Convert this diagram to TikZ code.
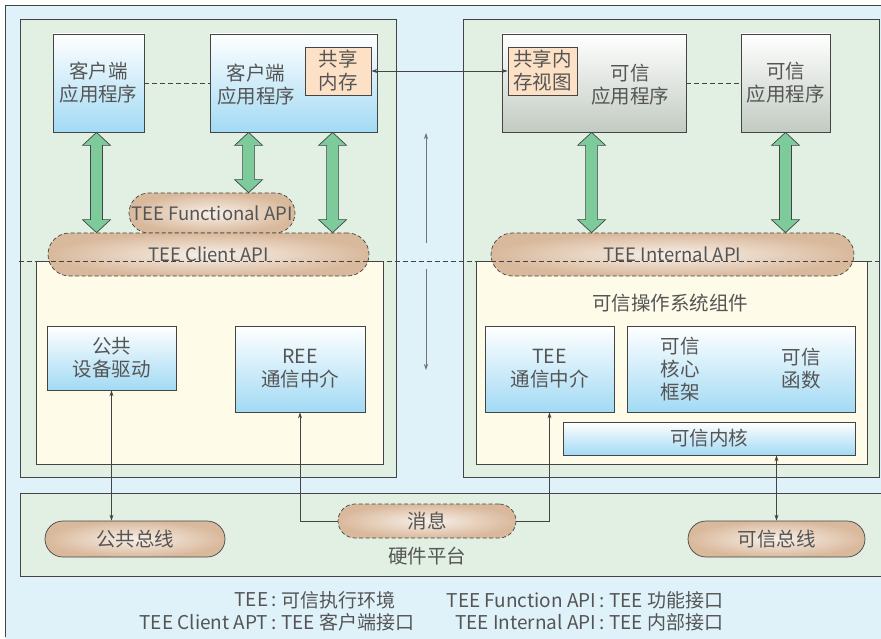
\documentclass[tikz,border=0pt]{standalone}
\usepackage{fontspec}
\setmainfont{Noto Sans CJK SC}
\usetikzlibrary{arrows.meta,calc}
\definecolor{bgblue}{HTML}{DFF1F9}
\definecolor{framegreen}{HTML}{E2F0E4}
\definecolor{yel}{HTML}{FEFBE9}
\definecolor{boxblue}{HTML}{A2DAF4}
\definecolor{boxgrey}{HTML}{C2CBC2}
\definecolor{peach}{HTML}{FDE1C6}
\definecolor{pilltan}{HTML}{D9B99C}
\definecolor{pilllight}{HTML}{F8F0E8}
\definecolor{arrgreen}{HTML}{7DCA9B}
\definecolor{txtgrey}{HTML}{555555}
\definecolor{edgegrey}{HTML}{444444}
\tikzset{
  every node/.style={text=txtgrey, inner sep=0pt, align=center},
  boxtext/.style={font=\fontsize{19.5}{23}\selectfont},
  bluebox/.style={draw=edgegrey, line width=0.8pt, top color=white, bottom color=boxblue, boxtext},
  greybox/.style={draw=edgegrey, line width=0.8pt, top color=white, bottom color=boxgrey, boxtext},
  peachbox/.style={draw=edgegrey, line width=0.8pt, fill=peach, boxtext},
  pill/.style={draw=edgegrey, line width=0.7pt, inner color=pilllight, outer color=pilltan, font=\fontsize{18.5}{20}\selectfont},
  dashpill/.style={pill, dash pattern=on 4pt off 2.5pt},
  frameg/.style={draw=edgegrey, line width=0.7pt, fill=framegreen},
  framey/.style={draw=edgegrey, line width=0.7pt, fill=yel},
  fatarr/.style={draw=edgegrey, line width=0.7pt, fill=arrgreen},
  conn/.style={draw=edgegrey, line width=0.7pt},
  dashconn/.style={conn, dash pattern=on 5pt off 3pt},
  tip/.style={-{Stealth[length=6pt,width=4pt]}},
  dtip/.style={{Stealth[length=6pt,width=4pt]}-{Stealth[length=6pt,width=4pt]}},
  legend/.style={font=\fontsize{19}{22}\selectfont}
}
\newcommand\fatarrow[2]{\filldraw[fatarr] let \p1=#1, \p2=#2 in (\x1,\y1) -- (\x1+14pt,\y1-13pt) -- (\x1+6pt,\y1-13pt) -- (\x1+6pt,\y2+13pt) -- (\x1+14pt,\y2+13pt) -- (\x1,\y2) -- (\x1-14pt,\y2+13pt) -- (\x1-6pt,\y2+13pt) -- (\x1-6pt,\y1-13pt) -- (\x1-14pt,\y1-13pt) -- cycle;}
\begin{document}
\begin{tikzpicture}[x=1pt,y=-1pt]
\useasboundingbox (0,0) rectangle (881,639);
% background
\fill[bgblue] (5,5) rectangle (881,639);
\draw[edgegrey, line width=0.8pt] (5,637) -- (5,5) -- (881,5);
% frames
\path[frameg] (20,19) rectangle (396,477);
\path[frameg] (463,19) rectangle (879,477);
\path[framey] (36,261) rectangle (383,464);
\path[framey] (476,261) rectangle (867,464);
% hardware platform
\path[frameg] (20,493) rectangle (884,576);
\node[boxtext] (hwlabel) at (427,556) {硬件平台};

% top apps
\node[bluebox, minimum width=91, minimum height=98] (app1) at (98.5,83) {客户端\\应用程序};
\node[bluebox, minimum width=167, minimum height=98] (app2) at (293.5,83) {};
\node[boxtext] (app2t) at (256,85) {客户端\\应用程序};
\node[peachbox, minimum width=66, minimum height=48] (shm) at (338,71) {共享\\内存};
\node[greybox, minimum width=184, minimum height=98] (tapp1) at (594,83) {};
\node[boxtext] (tapp1t) at (630,85) {可信\\应用程序};
\node[peachbox, minimum width=69, minimum height=48] (shmv) at (542.5,71) {共享内\\存视图};
\node[greybox, minimum width=89, minimum height=98] (tapp2) at (785.5,83) {可信\\应用程序};

\draw[dashconn] (app1.east) -- (app2.west);
\draw[dashconn] (tapp1.east) -- (tapp2.west);
\draw[conn, dtip] (shmv.west) -- (shm.east);

% API pills
\node[dashpill, minimum width=166, minimum height=40, rounded corners=20] (func) at (212,213) {TEE Functional API};
\node[dashpill, minimum width=321, minimum height=43, rounded corners=21.5] (client) at (208.5,254.5) {TEE Client API};
\node[dashpill, minimum width=363, minimum height=43, rounded corners=21.5] (internal) at (672.5,254.5) {TEE Internal API};

% fat arrows
\fatarrow{($(app1.south)+(-2,0)$)}{(client.north)}
\fatarrow{($(app2.south west)+(39,0)$)}{(func.north)}
\fatarrow{($(app2.south west)+(123,0)$)}{(client.north)}
\fatarrow{($(tapp1.south west)+(90,0)$)}{(internal.north)}
\fatarrow{(tapp2.south)}{(internal.north)}

% world separator
\coordinate (sepL) at (19,261);
\coordinate (sepR) at (881,261);
\draw[edgegrey, line width=0.7pt, dash pattern=on 5pt off 3pt] (sepL) -- (sepR);

% center arrows
\coordinate (upA) at (426,243);
\coordinate (upB) at (426,133);
\coordinate (dnA) at (426,269);
\coordinate (dnB) at (426,370);
\draw[conn, tip, draw=gray!90!black] (upA) -- (upB);
\draw[conn, tip, draw=gray!90!black] (dnA) -- (dnB);

% lower left
\node[bluebox, minimum width=129, minimum height=64] (drv) at (111.5,358) {公共\\设备驱动};
\node[bluebox, minimum width=130, minimum height=86] (ree) at (300,369) {REE\\通信中介};

% lower right
\node[boxtext] (oslabel) at (670,303) {可信操作系统组件};
\node[bluebox, minimum width=129, minimum height=86] (teec) at (549.5,369) {TEE\\通信中介};
\node[bluebox, minimum width=228, minimum height=86] (core) at (741,369) {};
\node[boxtext] (coret) at (680,369) {可信\\核心\\框架};
\node[boxtext] (funct) at (801,369) {可信\\函数};
\node[bluebox, minimum width=292, minimum height=33] (kernel) at (709,438.5) {可信内核};

% buses
\node[pill, minimum width=180, minimum height=36, rounded corners=18, boxtext] (pubbus) at (135,539) {公共总线};
\node[dashpill, minimum width=178, minimum height=34, rounded corners=17, boxtext] (msg) at (427,521) {消息};
\node[pill, minimum width=177, minimum height=36, rounded corners=18, boxtext] (tbus) at (776.5,539) {可信总线};

\draw[conn, dtip] (drv.south) -- (drv.south |- pubbus.north);
\draw[conn, tip] (msg.west) -| (ree.south);
\draw[conn, tip] (msg.east) -| (teec.south);
\draw[conn, dtip] (kernel.south -| tbus.north) -- (tbus.north);

% legend
\node[legend, anchor=east] (l1a) at (277,600) {TEE\,:};
\node[legend, anchor=west] (l1b) at (281,600) {可信执行环境};
\node[legend, anchor=east] (l1c) at (605,600) {TEE Function API\,:};
\node[legend, anchor=west] (l1d) at (609,600) {TEE 功能接口};
\node[legend, anchor=east] (l2a) at (277,622) {TEE Client APT\,:};
\node[legend, anchor=west] (l2b) at (281,622) {TEE 客户端接口};
\node[legend, anchor=east] (l2c) at (605,622) {TEE Internal API\,:};
\node[legend, anchor=west] (l2d) at (609,622) {TEE 内部接口};
\end{tikzpicture}
\end{document}
